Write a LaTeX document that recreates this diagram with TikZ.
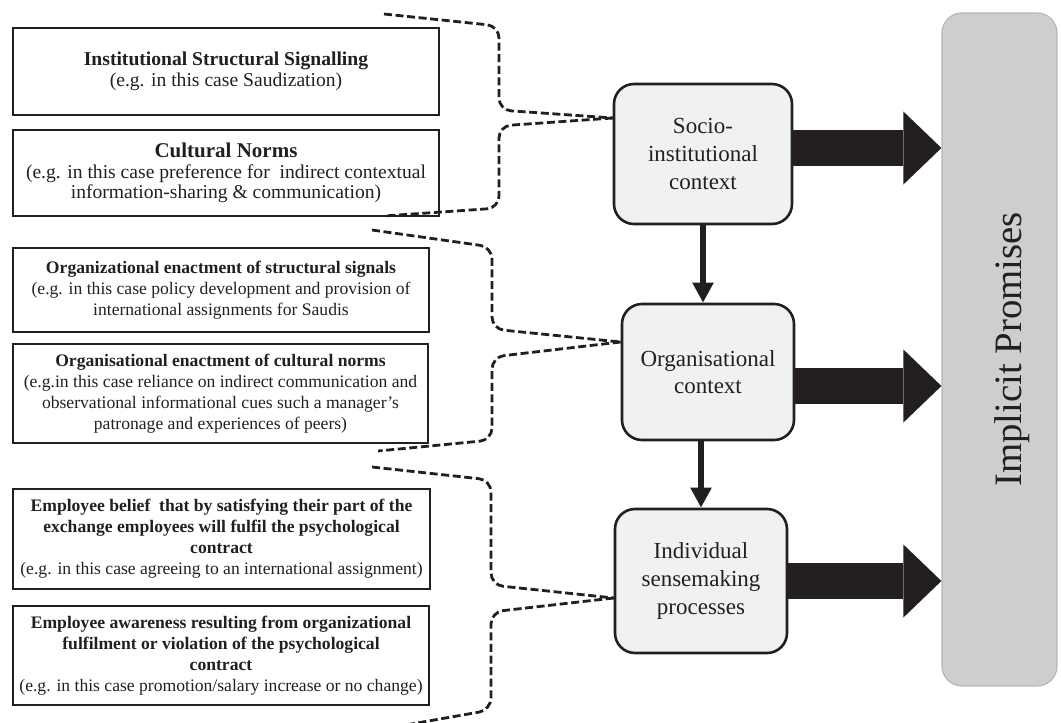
\documentclass[tikz,border=0pt]{standalone}
\usepackage{fontspec}
\setmainfont{Liberation Serif}
\usepackage{tikz}
\usetikzlibrary{arrows.meta}
\usetikzlibrary{positioning}

\definecolor{inkblack}{HTML}{231F20}
\definecolor{ctxgray}{HTML}{F0F1F3}
\definecolor{bargray}{HTML}{CDCED0}
\definecolor{barline}{HTML}{B5B6B8}

\begin{document}
\begin{tikzpicture}[x=0.5pt, y=-0.5pt,
  srcbox/.style={draw=inkblack, line width=1.4pt, align=center, inner sep=0pt, text=inkblack, font=\fontsize{9.8}{10.2}\selectfont},
  smallsrc/.style={srcbox, font=\fontsize{8.8}{10.5}\selectfont},
  ctxbox/.style={draw=inkblack, line width=1.3pt, rounded corners=10pt, fill=ctxgray, align=center, text=inkblack, font=\fontsize{11.5}{13.8}\selectfont},
  brace/.style={draw=inkblack, line width=1.4pt, dash pattern=on 4pt off 1.8pt, rounded corners=6pt},
  downarrow/.style={draw=inkblack, line width=3pt, -{Triangle[width=10pt,length=10pt]}},
  bigarrow/.style={draw=inkblack, line width=18pt, -{Triangle[width=36.5pt,length=19pt,line width=0pt]}}]
\useasboundingbox (0,0) rectangle (1061,723);

% the six source boxes on the left
\node[srcbox, minimum width=213pt, minimum height=43.5pt] (inst) at (226,71.5) {\textbf{Institutional Structural Signalling}\\(e.g. in this case Saudization)};
\node[srcbox, minimum width=213pt, minimum height=43pt] (cult) at (226,173) {{\fontsize{10.5}{11}\selectfont\textbf{Cultural Norms}}\\(e.g. in this case preference for\ \ indirect contextual\\information-sharing \& communication)};
\node[smallsrc, minimum width=208pt, minimum height=42pt] (orgsig) at (221,290) {\textbf{Organizational enactment of structural signals}\\(e.g. in this case policy development and provision of\\international assignments for Saudis};
\node[smallsrc, minimum width=207.5pt, minimum height=49.5pt] (orgnorm) at (220.5,393.5) {\textbf{Organisational enactment of cultural norms}\\(e.g.in this case reliance on indirect communication and\\observational informational cues such a manager’s\\patronage and experiences of peers)};
\node[smallsrc, minimum width=208.5pt, minimum height=50pt] (belief) at (221.5,539) {\textbf{Employee belief\ \ that by satisfying their part of the}\\\textbf{exchange employees will fulfil the psychological}\\\textbf{contract}\\(e.g. in this case agreeing to an international assignment)};
\node[smallsrc, minimum width=208pt, minimum height=49.5pt] (aware) at (221,655.5) {\textbf{Employee awareness resulting from organizational}\\\textbf{fulfilment or violation of the psychological}\\\textbf{contract}\\(e.g. in this case promotion/salary increase or no change)};

% context boxes
\node[ctxbox, minimum width=89pt, minimum height=70pt] (socio) at (703,154) {Socio-\\institutional\\context};
\node[ctxbox, minimum width=86pt, minimum height=68pt] (org) at (708,372) {Organisational\\context};
\node[ctxbox, minimum width=86pt, minimum height=72pt] (indiv) at (701,581) {Individual\\sensemaking\\processes};

% outcome bar
\node[draw=barline, line width=0.6pt, fill=bargray, rounded corners=10pt, minimum width=57.5pt, minimum height=336.5pt] (bar) at (999.5,349.5) {};
\node[rotate=90, text=inkblack, font=\fontsize{19.4}{20}\selectfont] (promises) at ([xshift=6.5pt]bar.center) {Implicit Promises};

% braces
\draw[brace] (384,14) -- (499,26) -- (499,110) -- ([yshift=18pt]socio.west);
\draw[brace] ([yshift=18pt]socio.west) -- (499,126) -- (499,208) -- (384,216);
\draw[brace] (372,230) -- (492,247) -- (492,329) -- ([yshift=15pt]org.west);
\draw[brace] ([yshift=15pt]org.west) -- (492,357) -- (492,440) -- (378,451);
\draw[brace] (372,467) -- (491,480) -- (491,585) -- ([yshift=-8.5pt]indiv.west);
\draw[brace] ([yshift=-8.5pt]indiv.west) -- (491,612) -- (491,710) -- (400,726);

% arrows
\draw[downarrow] (socio.south) -- (socio.south |- org.north);
\draw[downarrow] (org.south -| indiv.north) -- (indiv.north);
\draw[bigarrow] ([yshift=3pt]socio.east) -- ([yshift=3pt]socio.east -| bar.west);
\draw[bigarrow] ([yshift=-7pt]org.east) -- ([yshift=-7pt]org.east -| bar.west);
\draw[bigarrow] (indiv.east) -- (indiv.east -| bar.west);
\end{tikzpicture}
\end{document}
